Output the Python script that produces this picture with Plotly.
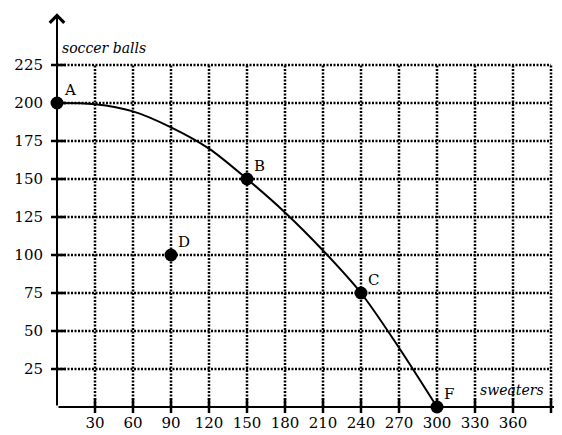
import plotly.graph_objects as go

# curve (production possibilities frontier)
curve_x = [0, 30, 60, 90, 120, 150, 180, 210, 240, 270, 300]
curve_y = [200, 199.2, 194.5, 184, 170, 150, 128, 103, 75, 39, 0]

# labelled points
pt_labels = ["A", "B", "C", "D", "F"]
pt_x = [0, 150, 240, 90, 300]
pt_y = [200, 150, 75, 100, 0]

x_ticks = [30, 60, 90, 120, 150, 180, 210, 240, 270, 300, 330, 360]
y_ticks = [25, 50, 75, 100, 125, 150, 175, 200, 225]
x_grid_end = 390
y_grid_end = 225

serif = "DejaVu Serif"
plot_w = 562 - 49
plot_h = 435 - 36

fig = go.Figure()

shapes = []
for xv in x_ticks + [x_grid_end]:
    shapes.append(dict(type="line", xref="x", yref="y", x0=xv, x1=xv, y0=0, y1=y_grid_end,
                       line=dict(color="black", width=2.5, dash="2px,1.5px"), layer="below"))
for yv in y_ticks:
    shapes.append(dict(type="line", xref="x", yref="y", x0=0, x1=x_grid_end, y0=yv, y1=yv,
                       line=dict(color="black", width=2.5, dash="2px,1.5px"), layer="below"))
# tick marks crossing the axes
for xv in x_ticks + [x_grid_end]:
    shapes.append(dict(type="line", xref="x", yref="paper", x0=xv, x1=xv,
                       y0=-6 / plot_h, y1=9 / plot_h, line=dict(color="black", width=2.5)))
for yv in y_ticks:
    shapes.append(dict(type="line", xref="paper", yref="y", y0=yv, y1=yv,
                       x0=-6 / plot_w, x1=9 / plot_w, line=dict(color="black", width=2.5)))

fig.add_trace(go.Scatter(x=curve_x, y=curve_y, mode="lines",
                         line=dict(color="black", width=2, shape="spline", smoothing=0.9),
                         hoverinfo="skip", showlegend=False))
fig.add_trace(go.Scatter(x=pt_x, y=pt_y, mode="markers", marker=dict(color="black", size=13),
                         showlegend=False, cliponaxis=False))

annotations = []
for lab, xv, yv in zip(pt_labels, pt_x, pt_y):
    annotations.append(dict(x=xv, y=yv, text=lab, showarrow=False, xanchor="left", yanchor="middle",
                            xshift=5, yshift=13, font=dict(family=serif, size=15, color="black")))

# axes with arrowheads
annotations.append(dict(x=412, y=0, ax=0, ay=0, xref="x", yref="y", axref="x", ayref="y", text="",
                        showarrow=True, arrowhead=4, arrowsize=1.4, arrowwidth=2, arrowcolor="black"))
annotations.append(dict(x=0, y=259, ax=0, ay=0, xref="x", yref="y", axref="x", ayref="y", text="",
                        showarrow=True, arrowhead=4, arrowsize=1.4, arrowwidth=2, arrowcolor="black"))

annotations.append(dict(x=2, y=236, text="<i>soccer balls</i>", showarrow=False, xanchor="left", yanchor="middle",
                        font=dict(family=serif, size=14, color="black")))
annotations.append(dict(x=386, y=11, text="<i>sweaters</i>", showarrow=False, xanchor="right", yanchor="middle",
                        font=dict(family=serif, size=14, color="black")))

fig.update_layout(
    width=562, height=435,
    margin=dict(l=49, r=0, t=0, b=36),
    plot_bgcolor="white", paper_bgcolor="white",
    font=dict(family=serif),
    shapes=shapes, annotations=annotations,
    xaxis=dict(range=[0, 405], tickvals=x_ticks, ticktext=[str(v) for v in x_ticks],
               showgrid=False, zeroline=False, showline=False, ticks="", ticklabelstandoff=5,
               tickfont=dict(family=serif, size=15, color="black")),
    yaxis=dict(range=[0, 262.5], tickvals=y_ticks, ticktext=[str(v) for v in y_ticks],
               showgrid=False, zeroline=False, showline=False, ticks="", ticklabelstandoff=13,
               tickfont=dict(family=serif, size=15, color="black")),
)

fig.write_html("out.html")
